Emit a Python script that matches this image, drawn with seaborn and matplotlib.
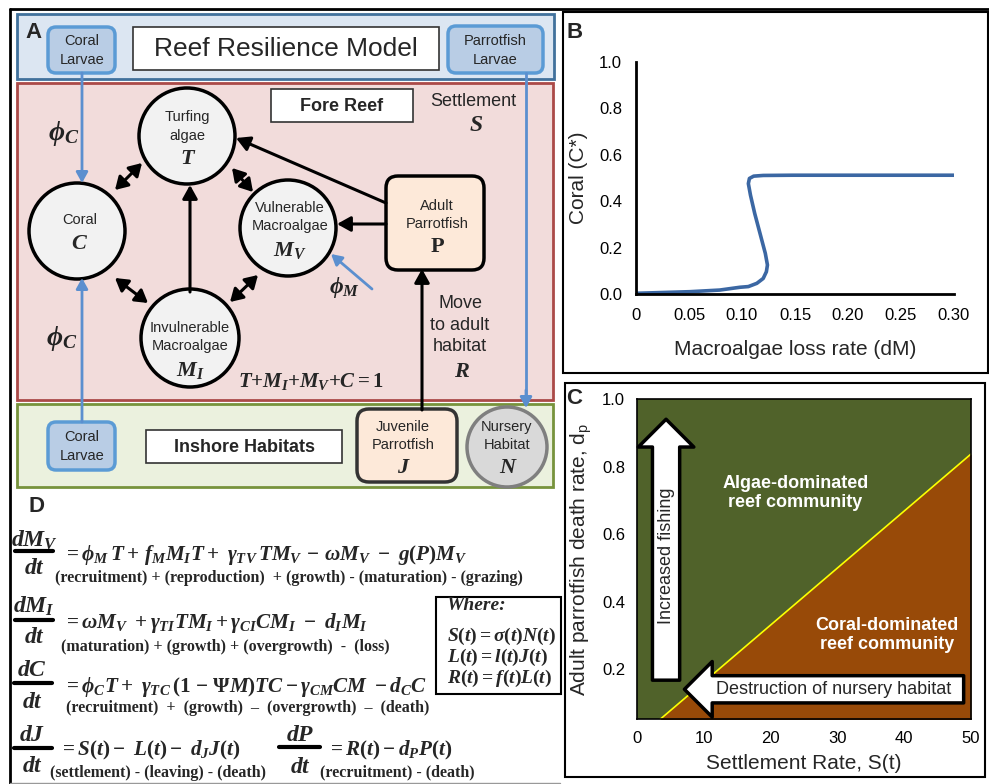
import matplotlib
matplotlib.use('Agg')
import matplotlib.pyplot as plt
import matplotlib.patches as mpatches
import seaborn as sns

sns.set_style('white')
plt.rcParams['font.family'] = ['Liberation Sans', 'DejaVu Sans']
plt.rcParams['mathtext.fontset'] = 'custom'
plt.rcParams['mathtext.it'] = 'Liberation Serif:italic:bold'
plt.rcParams['mathtext.rm'] = 'Liberation Serif:bold'
plt.rcParams['mathtext.bf'] = 'Liberation Serif:bold'
plt.rcParams['mathtext.sf'] = 'Liberation Sans'

# ---------------- Panel B data ----------------
loss_rate = [0.0, 0.051, 0.079, 0.098, 0.106, 0.114, 0.120, 0.123, 0.124, 0.122,
             0.117, 0.112, 0.108, 0.106, 0.107, 0.111, 0.120, 0.148, 0.30]
coral_cover = [0.003, 0.010, 0.017, 0.029, 0.032, 0.046, 0.067, 0.096, 0.125, 0.175,
               0.261, 0.347, 0.426, 0.476, 0.498, 0.508, 0.511, 0.512, 0.512]
b_xticks = [0.0, 0.05, 0.10, 0.15, 0.20, 0.25, 0.30]
b_xticklabels = ['0', '0.05', '0.10', '0.15', '0.20', '0.25', '0.30']
b_yticks = [0.0, 0.2, 0.4, 0.6, 0.8, 1.0]
b_yticklabels = ['0.0', '0.2', '0.4', '0.6', '0.8', '1.0']

# ---------------- Panel C data ----------------
settlement_rate = [3.4, 50.0]
death_threshold = [0.05, 0.837]
c_xticks = [0, 10, 20, 30, 40, 50]
c_yticks = [0.2, 0.4, 0.6, 0.8, 1.0]
c_yticklabels = ['0.2', '0.4', '0.6', '0.8', '1.0']

W, H = 989, 784
fig = plt.figure(figsize=(W / 100, H / 100), dpi=100)
ov = fig.add_axes([0, 0, 1, 1])
ov.set_xlim(0, W)
ov.set_ylim(H, 0)
ov.axis('off')

SERIF = 'Liberation Serif'


def rect(x0, y0, x1, y1, fc='none', ec='k', lw=1.5, z=1):
    ov.add_patch(mpatches.Rectangle((x0, y0), x1 - x0, y1 - y0, fc=fc, ec=ec, lw=lw, zorder=z))


def rbox(x0, y0, x1, y1, fc, ec, lw=2.5, r=8, z=3):
    ov.add_patch(mpatches.FancyBboxPatch((x0, y0), x1 - x0, y1 - y0,
                                         boxstyle=f'round,pad=0,rounding_size={r}',
                                         fc=fc, ec=ec, lw=lw, zorder=z))


def circ(cx, cy, r, fc='#f2f2f2', ec='k', lw=2.5):
    ov.add_patch(mpatches.Circle((cx, cy), r, fc=fc, ec=ec, lw=lw, zorder=3))


def txt(x, y, s, size=10.5, **kw):
    kw.setdefault('ha', 'center')
    kw.setdefault('va', 'center')
    ov.text(x, y, s, fontsize=size, zorder=5, **kw)


def arrow(x0, y0, x1, y1, style='-|>', color='k', lw=2.2, ms=18, hl=0.45, hw=0.25):
    ov.annotate('', xy=(x1, y1), xytext=(x0, y0), zorder=4,
                arrowprops=dict(arrowstyle=f'{style},head_length={hl},head_width={hw}',
                                color=color, lw=lw, shrinkA=0, shrinkB=0,
                                mutation_scale=ms))


# ---------------- outer frames ----------------
ov.plot([10, 10], [9, 784], color='k', lw=2, zorder=1)
ov.plot([10, 989], [9, 9], color='k', lw=2, zorder=1)
ov.plot([10, 560], [783, 783], color='#999999', lw=1, zorder=1)
rect(563, 12, 988, 373, lw=1.5)
rect(565, 383, 985, 777, lw=1.5)

# ---------------- Panel A ----------------
rect(17, 14, 554, 79, fc='#dce6f2', ec='#41719c', lw=2)
rect(17, 83, 553, 400, fc='#f2dcdb', ec='#ab4a48', lw=2)
rect(17, 404, 553, 487, fc='#ebf1de', ec='#77933c', lw=2)
txt(33, 32, 'A', size=16, weight='bold')

rbox(48, 27, 115, 73, '#b9cde5', '#5b9bd5', lw=2.5)
txt(82, 41, 'Coral')
txt(82, 60, 'Larvae')
rect(133, 27, 439, 70, fc='white', ec='#333333', lw=1.2, z=2)
txt(286, 49, 'Reef Resilience Model', size=19)
rbox(448, 26, 543, 73, '#b9cde5', '#5b9bd5', lw=2.5)
txt(495, 41, 'Parrotfish')
txt(495, 60, 'Larvae')

rect(271, 89, 413, 122, fc='white', ec='#333333', lw=1.2, z=2)
txt(342, 106, 'Fore Reef', size=13, weight='bold')
txt(473, 101, 'Settlement', size=13)
txt(476, 125, r'$S$', size=17)

# blue larval inputs
arrow(82, 73, 82, 183, color='#5b8fcf', lw=2, ms=14)
arrow(82, 422, 82, 278, color='#5b8fcf', lw=2, ms=14)
ov.plot([526, 526], [73, 395], color='#5b8fcf', lw=2, zorder=4)
arrow(526, 390, 526, 408, color='#5b8fcf', lw=2, ms=14)
arrow(372, 289, 331, 254, color='#5b8fcf', lw=2, ms=14)
txt(64, 133, r'$\phi_C$', size=20, color='#222222')
txt(62, 338, r'$\phi_C$', size=20, color='#222222')
txt(344, 287, r'$\phi_M$', size=17, color='#222222')

# interaction arrows
dbl = dict(style='<|-|>', hl=0.5, hw=0.3, ms=15)
arrow(115, 190, 142, 163, **dbl)
arrow(232, 168, 253, 192, **dbl)
arrow(115, 278, 148, 303, **dbl)
arrow(230, 302, 258, 275, **dbl)
arrow(190, 292, 190, 185)
arrow(386, 203, 236, 138)
arrow(386, 224, 337, 224)
arrow(422, 410, 422, 269)

# compartments
circ(187, 136, 48)
txt(187, 117, 'Turfing')
txt(187, 136, 'algae')
txt(188, 158, r'$T$', size=16)
circ(77, 231, 48)
txt(80, 220, 'Coral')
txt(80, 243, r'$C$', size=16)
circ(288, 228, 48)
txt(290, 208, 'Vulnerable')
txt(290, 226, 'Macroalgae')
txt(290, 250, r'$M_V$', size=16)
circ(190, 338, 49)
txt(190, 328, 'Invulnerable')
txt(190, 346, 'Macroalgae')
txt(190, 370, r'$M_I$', size=16)
rbox(386, 176, 484, 270, '#fde9d9', 'k', lw=2.5, r=12)
txt(437, 206, 'Adult')
txt(437, 224, 'Parrotfish')
txt(437, 246, r'$\mathrm{P}$', size=16)

txt(460, 303, 'Move', size=13)
txt(460, 325, 'to adult', size=13)
txt(460, 346, 'habitat', size=13)
txt(462, 371, r'$R$', size=16)
txt(311, 381, r'$T{+}M_I{+}M_V{+}C = 1$', size=15)

# inshore
rbox(48, 422, 115, 470, '#b9cde5', '#5b9bd5', lw=2.5)
txt(82, 437, 'Coral')
txt(82, 456, 'Larvae')
rect(146, 430, 342, 463, fc='white', ec='#333333', lw=1.2, z=2)
txt(244, 447, 'Inshore Habitats', size=13, weight='bold')
rbox(357, 409, 457, 482, '#fde9d9', '#333333', lw=2.5, r=12)
txt(403, 427, 'Juvenile')
txt(403, 445, 'Parrotfish')
txt(404, 467, r'$J$', size=16)
circ(507, 447, 40, fc='#d9d9d9', ec='#7f7f7f', lw=2.5)
txt(507, 427, 'Nursery')
txt(507, 445, 'Habitat')
txt(508, 467, r'$N$', size=16)

# ---------------- Panel D ----------------
txt(37, 507, 'D', size=16, weight='bold')


def frac(xc, x0, x1, ytop, ybar, ybot, num, den='dt'):
    txt(xc, ytop, num, size=17)
    ov.plot([x0, x1], [ybar, ybar], color='k', lw=3, zorder=5)
    txt(xc, ybot, r'$' + den + r'$', size=17)


EQ = 15.2
SUB = 11.5
frac(34, 15, 53, 540, 551, 568, r'$dM_V$')
txt(63, 555, r'$= \phi_M\, T + \, f_M M_I T +\ \gamma_{TV}\, TM_V\, -\, \omega M_V\ -\ g(P)M_V$',
    size=EQ, ha='left')
txt(55, 578, '(recruitment) + (reproduction)  + (growth) - (maturation) - (grazing)',
    size=SUB, ha='left', family=SERIF, weight='bold')

frac(34, 15, 53, 606, 620, 637, r'$dM_I$')
txt(63, 623, r'$= \omega M_V\ + \gamma_{TI} TM_I + \gamma_{CI} CM_I\ -\ d_I M_I$',
    size=EQ, ha='left')
txt(61, 647, '(maturation) + (growth) + (overgrowth)  -  (loss)',
    size=SUB, ha='left', family=SERIF, weight='bold')

frac(32, 14, 52, 670, 683, 702, r'$dC$')
txt(63, 687, r'$= \phi_C T +\ \gamma_{TC}\,(1\ \mathrm{-}\ \Psi M)TC - \gamma_{CM} CM\ - d_C C$',
    size=EQ, ha='left')
txt(66, 708, '(recruitment)  +  (growth)  \u2013  (overgrowth)  \u2013  (death)',
    size=SUB, ha='left', family=SERIF, weight='bold')

frac(32, 14, 52, 735, 748, 766, r'$dJ$')
txt(59, 750, r'$= S(t) -\ L(t) -\ d_J J(t)$', size=EQ, ha='left')
txt(50, 773, '(settlement) - (leaving) - (death)', size=SUB, ha='left', family=SERIF, weight='bold')

frac(300, 279, 320, 735, 747, 767, r'$dP$')
txt(327, 750, r'$= R(t) - d_P P(t)$', size=EQ, ha='left')
txt(320, 772, '(recruitment) - (death)', size=SUB, ha='left', family=SERIF, weight='bold')

rect(436, 597, 561, 694, fc='white', ec='k', lw=1.5, z=2)
txt(447, 606, 'Where:', size=14, ha='left', family=SERIF, weight='bold', style='italic')
txt(447, 636, r'$S(t) = \sigma(t)N(t)$', size=14, ha='left')
txt(447, 657, r'$L(t) = l(t)J(t)$', size=14, ha='left')
txt(447, 678, r'$R(t) = f(t)L(t)$', size=14, ha='left')

# ---------------- Panel B ----------------
txt(575, 32, 'B', size=16, weight='bold')
axB = fig.add_axes([636 / W, 1 - 294 / H, 318 / W, 232 / H])
axB.patch.set_alpha(0)
sns.lineplot(x=loss_rate, y=coral_cover, sort=False, estimator=None, ax=axB,
             color='#3b67a3', lw=2.6)
axB.set_xlim(0, 0.30)
axB.set_ylim(0, 1.0)
axB.set_xticks(b_xticks)
axB.set_xticklabels(b_xticklabels)
axB.set_yticks(b_yticks)
axB.set_yticklabels(b_yticklabels)
for s in ['top', 'right']:
    axB.spines[s].set_visible(False)
for s in ['left', 'bottom']:
    axB.spines[s].set_linewidth(2)
    axB.spines[s].set_color('k')
axB.tick_params(direction='in', length=6, width=2, labelsize=12, colors='k', pad=10)
axB.set_xlabel('Macroalgae loss rate (dM)', fontsize=15, labelpad=12)
axB.set_ylabel('Coral (C*)', fontsize=15, labelpad=8)

# ---------------- Panel C ----------------
txt(574, 398, 'C', size=16, weight='bold')
axC = fig.add_axes([637 / W, 1 - 719 / H, 334 / W, 320 / H])
axC.set_facecolor('#50622a')
axC.fill_between(settlement_rate, 0.0, death_threshold, color='#984a08', lw=0)
sns.lineplot(x=settlement_rate, y=death_threshold, ax=axC, color='#ffff00', lw=1.2)
axC.set_xlim(0, 50)
axC.set_ylim(0.052, 1.0)
axC.set_xticks(c_xticks)
axC.set_yticks(c_yticks)
axC.set_yticklabels(c_yticklabels)
for s in axC.spines.values():
    s.set_linewidth(1.2)
    s.set_color('k')
axC.tick_params(direction='out', length=5, width=1.2, labelsize=12, colors='k')
axC.set_xlabel('Settlement Rate, S(t)', fontsize=15, labelpad=6)
axC.set_ylabel(r'Adult parrotfish death rate, d$_{\mathsf{p}}$', fontsize=15, labelpad=6)

arr = dict(arrowstyle='simple,head_length=1.0,head_width=2.0,tail_width=0.98',
           fc='white', ec='black', lw=2.5, shrinkA=0, shrinkB=0, mutation_scale=20)
axC.annotate('', xy=(4.35, 0.94), xytext=(4.35, 0.167), arrowprops=arr)
axC.annotate('', xy=(7.1, 0.14), xytext=(48.9, 0.14), arrowprops=arr)
axC.text(4.35, 0.535, 'Increased fishing', rotation=90, fontsize=13, ha='center', va='center')
axC.text(29.5, 0.14, 'Destruction of nursery habitat', fontsize=13, ha='center', va='center')
axC.text(23.7, 0.722, 'Algae-dominated\nreef community', fontsize=13, weight='bold',
         color='white', ha='center', va='center', linespacing=1.15)
axC.text(37.4, 0.30, 'Coral-dominated\nreef community', fontsize=13, weight='bold',
         color='white', ha='center', va='center', linespacing=1.15)

fig.savefig('out.png', dpi=100)
